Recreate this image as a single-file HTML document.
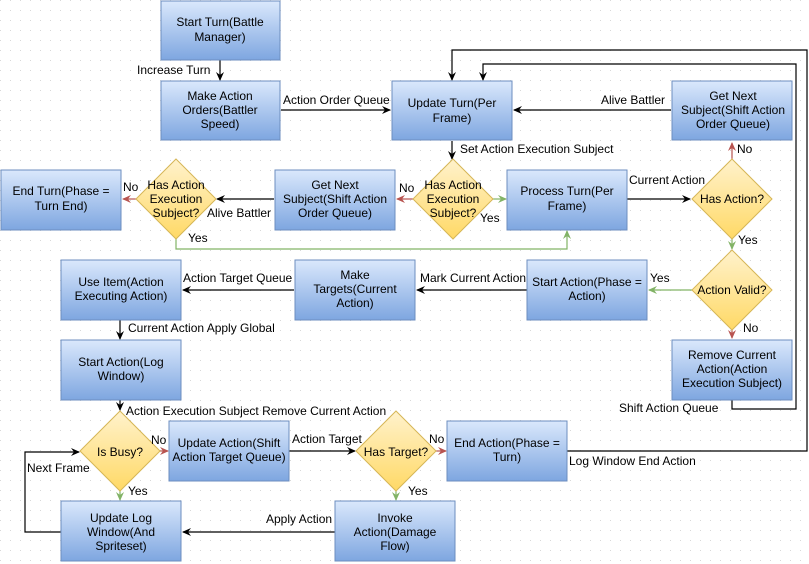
<!DOCTYPE html>
<html><head><meta charset="utf-8"><style>
html,body{margin:0;padding:0;background:#fff}
svg{display:block}
text{font-family:"Liberation Sans",sans-serif;font-size:12px;fill:#000}
</style></head><body>
<svg width="809" height="564" viewBox="0 0 809 564" xmlns="http://www.w3.org/2000/svg">
<defs>
<pattern id="g" width="10" height="10" patternUnits="userSpaceOnUse"><rect x="0" y="0" width="1" height="1" fill="#d8d8d8"/></pattern>
<linearGradient id="b" x1="0" y1="0" x2="0" y2="1"><stop offset="0" stop-color="#dae8fc"/><stop offset="1" stop-color="#7ea6e0"/></linearGradient>
<linearGradient id="y" x1="0" y1="0" x2="0" y2="1"><stop offset="0" stop-color="#fff2cc"/><stop offset="1" stop-color="#ffd966"/></linearGradient>
<marker id="ak" markerWidth="10" markerHeight="10" refX="8" refY="5" orient="auto" markerUnits="userSpaceOnUse"><path d="M0,1 L9,5 L0,9 L3,5z" fill="#000"/></marker>
<marker id="ar" markerWidth="10" markerHeight="10" refX="8" refY="5" orient="auto" markerUnits="userSpaceOnUse"><path d="M0,1 L9,5 L0,9 L3,5z" fill="#b85450"/></marker>
<marker id="ag" markerWidth="10" markerHeight="10" refX="8" refY="5" orient="auto" markerUnits="userSpaceOnUse"><path d="M0,1 L9,5 L0,9 L3,5z" fill="#82b366"/></marker>
</defs>
<rect width="809" height="564" fill="url(#g)"/>
<g fill="none" stroke-width="1.2">
<g stroke="#000" marker-end="url(#ak)">
<path d="M220,60V80"/>
<path d="M281,110H390"/>
<path d="M671,110H514"/>
<path d="M452,141V159"/>
<path d="M627,199H690"/>
<path d="M274,199H217"/>
<path d="M527,290H417"/>
<path d="M294,290H183"/>
<path d="M120,320V339"/>
<path d="M120,400V410"/>
<path d="M289,451H355"/>
<path d="M335,532H183"/>
<path d="M61,532H25V452H79"/>
<path d="M567,451H807V50H452V80"/>
<path d="M732,400V409H796V64H483V80"/>
</g>
<g stroke="#b85450" marker-end="url(#ar)">
<path d="M136,199H123"/>
<path d="M413,199H397"/>
<path d="M732,159V143"/>
<path d="M732,329V338"/>
<path d="M436,451H446"/>
<path d="M160,451H168"/>
</g>
<g stroke="#82b366" marker-end="url(#ag)">
<path d="M493,199H506"/>
<path d="M176,239V249H567V231"/>
<path d="M732,239V249"/>
<path d="M692,290H649"/>
<path d="M120,491V500"/>
<path d="M396,491V500"/>
</g>
</g>
<g stroke="#6c8ebf" fill="url(#b)">
<rect x="161" y="1" width="119" height="59"/>
<rect x="161" y="81" width="119" height="59"/>
<rect x="392" y="81" width="120" height="59"/>
<rect x="672" y="81" width="120" height="59"/>
<rect x="507" y="170" width="120" height="60"/>
<rect x="275" y="170" width="120" height="60"/>
<rect x="1" y="170" width="120" height="60"/>
<rect x="527" y="260" width="120" height="60"/>
<rect x="295" y="260" width="120" height="60"/>
<rect x="61" y="260" width="120" height="60"/>
<rect x="61" y="340" width="120" height="60"/>
<rect x="672" y="340" width="120" height="60"/>
<rect x="169" y="421" width="120" height="60"/>
<rect x="447" y="421" width="120" height="60"/>
<rect x="335" y="501" width="120" height="60"/>
<rect x="61" y="501" width="120" height="60"/>
</g>
<g stroke="#d6b656" fill="url(#y)">
<path d="M453,159L493,199L453,239L413,199Z"/>
<path d="M176,159L216,199L176,239L136,199Z"/>
<path d="M732,159L772,199L732,239L692,199Z"/>
<path d="M732,250L772,290L732,330L692,290Z"/>
<path d="M120,411L160,451L120,491L80,451Z"/>
<path d="M396,411L436,451L396,491L356,451Z"/>
</g>
<g text-anchor="middle">
<text x="220" y="26">Start Turn(Battle</text><text x="220" y="41">Manager)</text>
<text x="220" y="100">Make Action</text><text x="220" y="114">Orders(Battler</text><text x="220" y="128">Speed)</text>
<text x="452" y="107">Update Turn(Per</text><text x="452" y="122">Frame)</text>
<text x="733" y="100">Get Next</text><text x="733" y="114">Subject(Shift Action</text><text x="733" y="128">Order Queue)</text>
<text x="567" y="195">Process Turn(Per</text><text x="567" y="210">Frame)</text>
<text x="335" y="189">Get Next</text><text x="335" y="203">Subject(Shift Action</text><text x="335" y="217">Order Queue)</text>
<text x="61" y="195">End Turn(Phase =</text><text x="61" y="210">Turn End)</text>
<text x="453" y="189">Has Action</text><text x="453" y="203">Execution</text><text x="453" y="217">Subject?</text>
<text x="176" y="189">Has Action</text><text x="176" y="203">Execution</text><text x="176" y="217">Subject?</text>
<text x="732" y="203">Has Action?</text>
<text x="732" y="294">Action Valid?</text>
<text x="587" y="286">Start Action(Phase =</text><text x="587" y="300">Action)</text>
<text x="355" y="279">Make</text><text x="355" y="293">Targets(Current</text><text x="355" y="307">Action)</text>
<text x="121" y="286">Use Item(Action</text><text x="121" y="300">Executing Action)</text>
<text x="121" y="366">Start Action(Log</text><text x="121" y="380">Window)</text>
<text x="732" y="359">Remove Current</text><text x="732" y="373">Action(Action</text><text x="732" y="387">Execution Subject)</text>
<text x="120" y="456">Is Busy?</text>
<text x="229" y="447">Update Action(Shift</text><text x="229" y="461">Action Target Queue)</text>
<text x="396" y="456">Has Target?</text>
<text x="507" y="447">End Action(Phase =</text><text x="507" y="461">Turn)</text>
<text x="395" y="522">Invoke</text><text x="395" y="536">Action(Damage</text><text x="395" y="550">Flow)</text>
<text x="121" y="522">Update Log</text><text x="121" y="536">Window(And</text><text x="121" y="550">Spriteset)</text>
</g>
<g>
<text x="137" y="74">Increase Turn</text>
<text x="283" y="104">Action Order Queue</text>
<text x="601" y="104">Alive Battler</text>
<text x="460" y="153">Set Action Execution Subject</text>
<text x="629" y="184">Current Action</text>
<text x="737" y="153">No</text>
<text x="399" y="192">No</text>
<text x="480" y="222">Yes</text>
<text x="207" y="217">Alive Battler</text>
<text x="123" y="191">No</text>
<text x="188" y="242">Yes</text>
<text x="738" y="244">Yes</text>
<text x="650" y="282">Yes</text>
<text x="420" y="282">Mark Current Action</text>
<text x="183" y="282">Action Target Queue</text>
<text x="128" y="332">Current Action Apply Global</text>
<text x="743" y="332">No</text>
<text x="619" y="412">Shift Action Queue</text>
<text x="126" y="415">Action Execution Subject Remove Current Action</text>
<text x="151" y="444">No</text>
<text x="292" y="443">Action Target</text>
<text x="429" y="443">No</text>
<text x="27" y="472">Next Frame</text>
<text x="128" y="495">Yes</text>
<text x="408" y="495">Yes</text>
<text x="569" y="465">Log Window End Action</text>
<text x="266" y="523">Apply Action</text>
</g>
</svg>
</body></html>
